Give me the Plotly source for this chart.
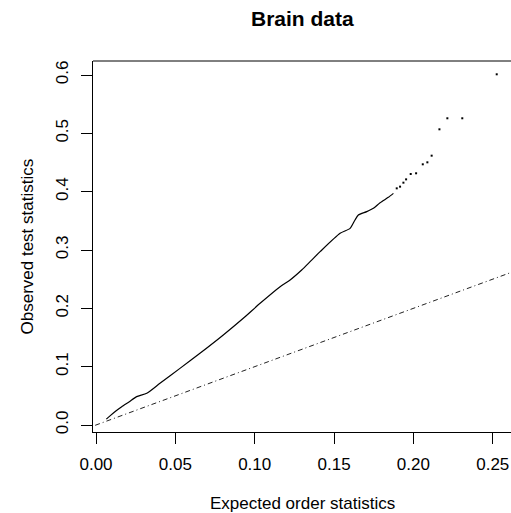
import plotly.graph_objects as go

# Dense body of the QQ curve (expected vs observed order statistics)
body_x = [0.0065, 0.0090, 0.0125, 0.0162, 0.0210, 0.0256, 0.0320, 0.0403, 0.0529,
          0.0655, 0.0802, 0.0928, 0.1034, 0.1160, 0.1223, 0.1296, 0.1349, 0.1412,
          0.1538, 0.1601, 0.1632, 0.1653, 0.1706, 0.1748, 0.1790, 0.1842, 0.1874]
body_y = [0.0100, 0.0160, 0.0240, 0.0314, 0.0400, 0.0486, 0.0543, 0.0714, 0.0971,
          0.1229, 0.1543, 0.1829, 0.2086, 0.2371, 0.2486, 0.2657, 0.2800, 0.2971,
          0.3286, 0.3371, 0.3514, 0.3600, 0.3657, 0.3714, 0.3811, 0.3903, 0.3971]

# Sparse upper tail points
tail_x = [0.1895, 0.1916, 0.1937, 0.1954, 0.1983, 0.2017, 0.2059, 0.2088, 0.2115,
          0.2164, 0.2214, 0.2308, 0.2525]
tail_y = [0.4057, 0.4086, 0.4154, 0.4211, 0.4303, 0.4315, 0.4469, 0.4503, 0.4617,
          0.5069, 0.5258, 0.5258, 0.6012]

# Reference line y = x
ref_x = [-0.01, 0.27]
ref_y = [-0.01, 0.27]

x_ticks = [0.00, 0.05, 0.10, 0.15, 0.20, 0.25]
y_ticks = [0.0, 0.1, 0.2, 0.3, 0.4, 0.5, 0.6]

FONT = "Liberation Sans, Arial, Helvetica, sans-serif"

fig = go.Figure()
fig.add_trace(go.Scatter(x=ref_x, y=ref_y, mode="lines",
                         line=dict(color="#222222", width=1, dash="1px,3px,5px,3px"),
                         hoverinfo="skip"))
fig.add_trace(go.Scatter(x=body_x, y=body_y, mode="lines",
                         line=dict(color="black", width=1.2, shape="spline",
                                   smoothing=0.6)))
fig.add_trace(go.Scatter(x=tail_x, y=tail_y, mode="markers",
                         marker=dict(color="black", size=2, symbol="square",
                                     line=dict(width=0))))

fig.update_layout(
    width=511, height=513,
    margin=dict(l=93, r=0, t=61, b=81),
    plot_bgcolor="white", paper_bgcolor="white",
    showlegend=False,
    font=dict(family=FONT, size=17, color="black"),
    xaxis=dict(range=[-0.0019, 0.2615], tickvals=x_ticks, tickformat=".2f",
               showgrid=False, zeroline=False, showline=True, linecolor="black",
               linewidth=1, ticks="outside", ticklen=11, tickcolor="black",
               tickwidth=1, ticklabelstandoff=6, tickfont=dict(size=17)),
    yaxis=dict(range=[-0.012, 0.624], tickvals=y_ticks, tickformat=".1f",
               showgrid=False, zeroline=False, showline=True, linecolor="black",
               linewidth=1, ticks="outside", ticklen=11, tickcolor="black",
               tickwidth=1, tickangle=-90, ticklabelstandoff=6,
               tickfont=dict(size=17)),
    shapes=[dict(type="line", xref="paper", yref="paper", x0=0, x1=1, y0=1, y1=1,
                 line=dict(color="black", width=1))],
    annotations=[
        dict(text="<b>Brain data</b>", xref="paper", yref="paper", x=0.5, y=1,
             yshift=43, xanchor="center", yanchor="middle", showarrow=False,
             font=dict(size=21)),
        dict(text="Expected order statistics", xref="paper", yref="paper", x=0.5,
             y=0, yshift=-71, xanchor="center", yanchor="middle", showarrow=False,
             font=dict(size=17)),
        dict(text="Observed test statistics", xref="paper", yref="paper", x=0,
             xshift=-66, y=0.5, xanchor="center", yanchor="middle", textangle=-90,
             showarrow=False, font=dict(size=17)),
    ],
)

fig.write_html("out.html",
               config={"displayModeBar": False},
               post_script="document.body.style.margin='0px';"
                           "document.body.style.overflow='hidden';")
